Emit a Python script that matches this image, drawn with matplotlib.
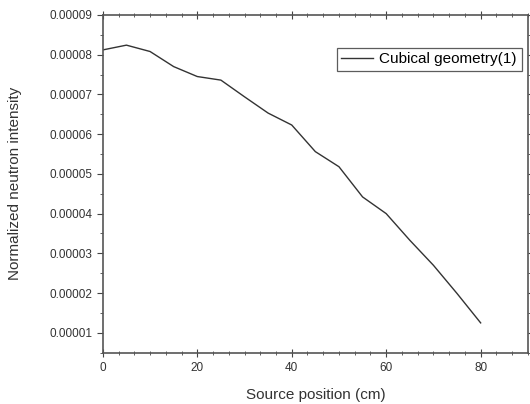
import matplotlib
matplotlib.use("Agg")
import matplotlib.pyplot as plt
from matplotlib.ticker import MultipleLocator, FuncFormatter

plt.rcParams['font.family'] = ['Liberation Sans', 'DejaVu Sans']

# source position (cm) and normalized intensity
pos = [0, 5, 10, 15, 20, 25, 30, 35, 40, 45, 50, 55, 60, 65, 70, 75, 80]
intensity = [8.12e-5, 8.24e-5, 8.08e-5, 7.70e-5, 7.45e-5, 7.36e-5, 6.94e-5,
             6.53e-5, 6.23e-5, 5.56e-5, 5.18e-5, 4.42e-5, 4.00e-5, 3.33e-5,
             2.70e-5, 1.99e-5, 1.25e-5]
label = "Cubical geometry(1)"

fig = plt.figure(figsize=(5.30, 4.04), dpi=100)
ax = fig.add_axes([0.194, 0.127, 0.802, 0.836])

ax.plot(pos, intensity, color='#333333', lw=1.0, label=label)

ax.set_xlim(0, 90)
ax.set_ylim(0.5e-5, 9e-5)
ax.xaxis.set_major_locator(MultipleLocator(20))
ax.xaxis.set_minor_locator(MultipleLocator(20 / 6))
ax.yaxis.set_major_locator(MultipleLocator(1e-5))
ax.yaxis.set_minor_locator(MultipleLocator(0.5e-5))
ax.yaxis.set_major_formatter(FuncFormatter(lambda v, p: "%.5f" % v))

ax.tick_params(axis='x', which='both', direction='inout', top=True, labelsize=8.5,
               color='#444444', labelcolor='#333333')
ax.tick_params(axis='x', which='major', length=6)
ax.tick_params(axis='x', which='minor', length=3)
ax.tick_params(axis='y', which='both', direction='out', right=True, labelsize=8.5,
               color='#444444', labelcolor='#333333')
ax.tick_params(axis='y', which='major', length=4)
ax.tick_params(axis='y', which='minor', length=2)
for s in ax.spines.values():
    s.set_color('#555555')
    s.set_linewidth(1.2)

ax.set_xlabel("Source position (cm)", fontsize=11, color='#333333', labelpad=10)
ax.set_ylabel("Normalized neutron intensity", fontsize=11, color='#333333', labelpad=20)

leg = ax.legend(loc='upper right', bbox_to_anchor=(0.985, 0.903), fontsize=11,
                frameon=True, fancybox=False, handlelength=2.1, handletextpad=0.4,
                borderpad=0.3, borderaxespad=0.0)
leg.get_frame().set_edgecolor('#333333')
leg.get_frame().set_linewidth(0.9)

fig.savefig("out.png", dpi=100)
